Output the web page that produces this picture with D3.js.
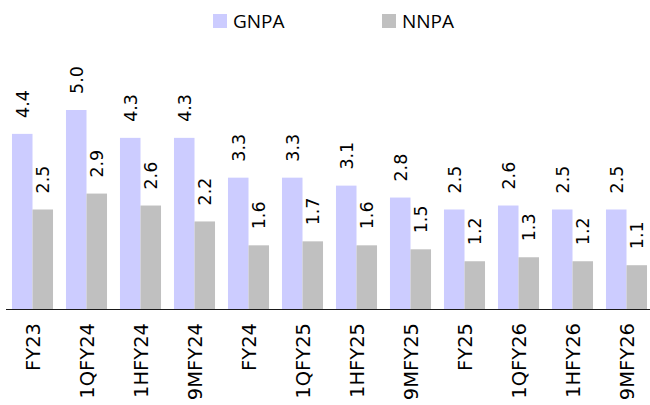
<!DOCTYPE html>
<html>
<head>
<meta charset="utf-8">
<script src="https://cdn.jsdelivr.net/npm/d3@7"></script>
<style>
  body { margin: 0; background: #fff; }
  svg { display: block; }
</style>
</head>
<body>
<div id="chart"></div>
<script>
'use strict'

// data
const periods = ['FY23', '1QFY24', '1HFY24', '9MFY24', 'FY24', '1QFY25', '1HFY25', '9MFY25', 'FY25', '1QFY26', '1HFY26', '9MFY26']
const gnpa = [4.4, 5.0, 4.3, 4.3, 3.3, 3.3, 3.1, 2.8, 2.5, 2.6, 2.5, 2.5]
const nnpa = [2.5, 2.9, 2.6, 2.2, 1.6, 1.7, 1.6, 1.5, 1.2, 1.3, 1.2, 1.1]
const seriesNames = ['GNPA', 'NNPA']

const colors = { GNPA: '#ccccff', NNPA: '#c0c0c0' }

////////////////////////////////////
//////////// svg setup /////////////
////////////////////////////////////

const svgWidth = 650
const svgHeight = 405

const margin = { left: 5.5, right: -3.5, top: 110, bottom: 96 }
const width = svgWidth - margin.left - margin.right
const height = svgHeight - margin.top - margin.bottom

const rows = periods.map((p, i) => ({ period: p, GNPA: gnpa[i], NNPA: nnpa[i] }))

const svg = d3.select('#chart').append('svg')
  .attr('width', svgWidth)
  .attr('height', svgHeight)

const g = svg.append('g')
  .attr('transform', `translate(${margin.left},${margin.top})`)

// scales
const x0 = d3.scaleBand()
  .domain(periods)
  .range([0, width])
  .paddingInner(0.24)
  .paddingOuter(0.12)

const x1 = d3.scaleBand()
  .domain(seriesNames)
  .range([0, x0.bandwidth()])

const y = d3.scaleLinear()
  .domain([0, 5])
  .range([height, 0])

// bars
const groups = g.selectAll('.grp')
  .data(rows)
  .join('g')
  .attr('class', 'grp')
  .attr('transform', d => `translate(${x0(d.period)},0)`)

groups.selectAll('rect')
  .data(d => seriesNames.map(k => ({ key: k, value: d[k] })))
  .join('rect')
  .attr('x', d => x1(d.key))
  .attr('y', d => y(d.value))
  .attr('width', x1.bandwidth())
  .attr('height', d => y(0) - y(d.value))
  .attr('fill', d => colors[d.key])

// value labels, rotated
groups.selectAll('text.val')
  .data(d => seriesNames.map(k => ({ key: k, value: d[k] })))
  .join('text')
  .attr('class', 'val')
  .attr('transform', d => `translate(${x1(d.key) + x1.bandwidth() / 2},${y(d.value) - 16}) rotate(-90)`)
  .attr('dy', '0.36em')
  .attr('text-anchor', 'start')
  .attr('font-family', 'DejaVu Sans, sans-serif')
  .attr('font-size', 17.5)
  .attr('fill', '#000')
  .text(d => d3.format('.1f')(d.value))

// x axis
const xAxis = g.append('g')
  .attr('transform', `translate(0,${height})`)
  .call(d3.axisBottom(x0).tickSize(0).tickPadding(0))

xAxis.select('.domain')
  .attr('stroke', '#1a1a1a')
  .attr('stroke-width', 1.2)

xAxis.selectAll('text')
  .attr('font-family', 'DejaVu Sans, sans-serif')
  .attr('font-size', 19.5)
  .attr('fill', '#000')
  .attr('text-anchor', 'end')
  .attr('dy', '0.36em')
  .attr('transform', 'translate(0,14) rotate(-90)')

// legend
const legend = svg.append('g')
  .attr('transform', 'translate(213,14)')

const items = legend.selectAll('g')
  .data(seriesNames)
  .join('g')
  .attr('transform', (d, i) => `translate(${i * 169},0)`)

items.append('rect')
  .attr('width', 14)
  .attr('height', 14)
  .attr('fill', d => colors[d])

items.append('text')
  .attr('x', 20)
  .attr('y', 14)
  .attr('font-family', 'Open Sans, sans-serif')
  .attr('font-size', 19)
  .attr('fill', '#000')
  .text(d => d)
</script>
</body>
</html>
